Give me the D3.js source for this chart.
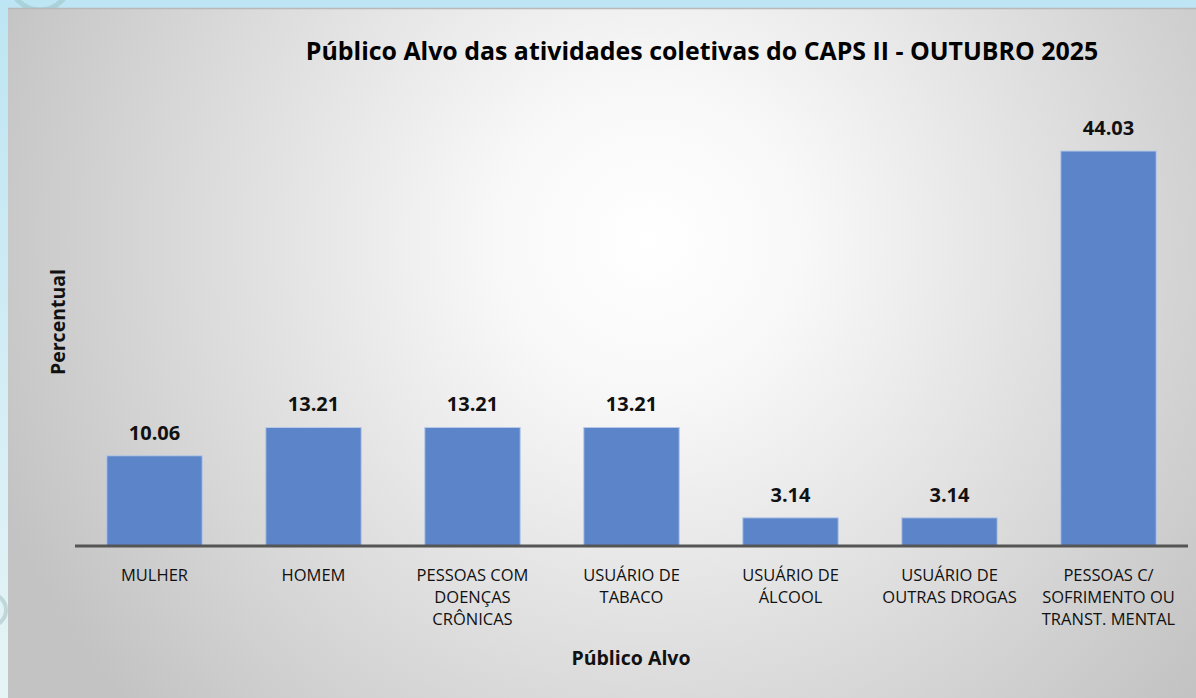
<!DOCTYPE html>
<html><head><meta charset="utf-8">
<script src="https://cdn.jsdelivr.net/npm/d3@7"></script>
<style>html,body{margin:0;padding:0;overflow:hidden;background:#bfe6f3}</style>
</head><body>
<script>
const categories = ["MULHER","HOMEM","PESSOAS COM\nDOENÇAS\nCRÔNICAS","USUÁRIO DE\nTABACO","USUÁRIO DE\nÁLCOOL","USUÁRIO DE\nOUTRAS DROGAS","PESSOAS C/\nSOFRIMENTO OU\nTRANST. MENTAL"];
const values = [10.06, 13.21, 13.21, 13.21, 3.14, 3.14, 44.03];
const title = "Público Alvo das atividades coletivas do CAPS II - OUTUBRO 2025";
const xTitle = "Público Alvo";
const yTitle = "Percentual";

const W = 1196, H = 698;
const svg = d3.select("body").append("svg").attr("width", W).attr("height", H);
const defs = svg.append("defs");
const bg = defs.append("linearGradient").attr("id","bgblue").attr("x1",0).attr("y1",0).attr("x2",0).attr("y2",1);
bg.append("stop").attr("offset","0").attr("stop-color","#bde5f3");
bg.append("stop").attr("offset","1").attr("stop-color","#e6f4f6");
svg.append("rect").attr("width",W).attr("height",H).attr("fill","url(#bgblue)");
svg.append("circle").attr("cx",40).attr("cy",-20).attr("r",30).attr("fill","none").attr("stroke","#9cc4cc").attr("stroke-width",5).attr("opacity",0.6);
svg.append("circle").attr("cx",-10).attr("cy",610).attr("r",16).attr("fill","none").attr("stroke","#a9c4c6").attr("stroke-width",4).attr("opacity",0.6);

const rg = defs.append("radialGradient").attr("id","panel").attr("gradientUnits","userSpaceOnUse")
  .attr("cx",650).attr("cy",240).attr("r",700);
rg.append("stop").attr("offset","0").attr("stop-color","#ffffff");
rg.append("stop").attr("offset","0.22").attr("stop-color","#f8f8f8");
rg.append("stop").attr("offset","1").attr("stop-color","#c3c3c3");
svg.append("rect").attr("x",8).attr("y",8).attr("width",W-8).attr("height",H-8).attr("fill","url(#panel)");
svg.append("line").attr("x1",8).attr("x2",W).attr("y1",8.5).attr("y2",8.5).attr("stroke","#b8b8b8").attr("stroke-width",1.5);

const font = "'Open Sans', sans-serif";
const x = d3.scaleBand().domain(categories).range([75, 1188]).paddingInner(0.4).paddingOuter(0.2);
const y = d3.scaleLinear().domain([0, 44.03]).range([546, 151]);

svg.append("g").selectAll("rect").data(values).join("rect")
  .attr("x",(d,i)=>x(categories[i])).attr("width",x.bandwidth())
  .attr("y",d=>y(d)).attr("height",d=>y(0)-y(d))
  .attr("fill","#5b84c9").attr("stroke","#b7c9e8").attr("stroke-width",1);

svg.append("g").selectAll("text").data(values).join("text")
  .attr("x",(d,i)=>x(categories[i])+x.bandwidth()/2).attr("y",d=>y(d)-16)
  .attr("text-anchor","middle").attr("font-family",font).attr("font-weight","bold")
  .attr("font-size",20).attr("fill","#111").text(d=>d.toFixed(2));

const xAxis = svg.append("g").attr("transform",`translate(0,${y(0)})`)
  .call(d3.axisBottom(x).tickSize(0).tickFormat(""));
xAxis.select(".domain").attr("stroke","#555").attr("stroke-width",3).attr("d","M75,0H1188");

const lab = svg.append("g").selectAll("text").data(categories).join("text")
  .attr("x",d=>x(d)+x.bandwidth()/2).attr("y",581)
  .attr("text-anchor","middle").attr("font-family",font).attr("font-size",16.5).attr("fill","#111");
lab.each(function(d){
  const t = d3.select(this);
  d.split("\n").forEach((s,i)=>t.append("tspan").attr("x",t.attr("x")).attr("dy",i?22:0).text(s));
});

svg.append("text").attr("x",702).attr("y",60).attr("text-anchor","middle")
  .attr("font-family",font).attr("font-weight","bold").attr("font-size",24.9).attr("fill","#000").text(title);
svg.append("text").attr("x",631).attr("y",665).attr("text-anchor","middle")
  .attr("font-family",font).attr("font-weight","bold").attr("font-size",19.5).attr("fill","#111").text(xTitle);
svg.append("text").attr("transform","translate(65,322) rotate(-90)").attr("text-anchor","middle")
  .attr("font-family",font).attr("font-weight","bold").attr("font-size",19.5).attr("fill","#111").text(yTitle);
</script>
</body></html>
